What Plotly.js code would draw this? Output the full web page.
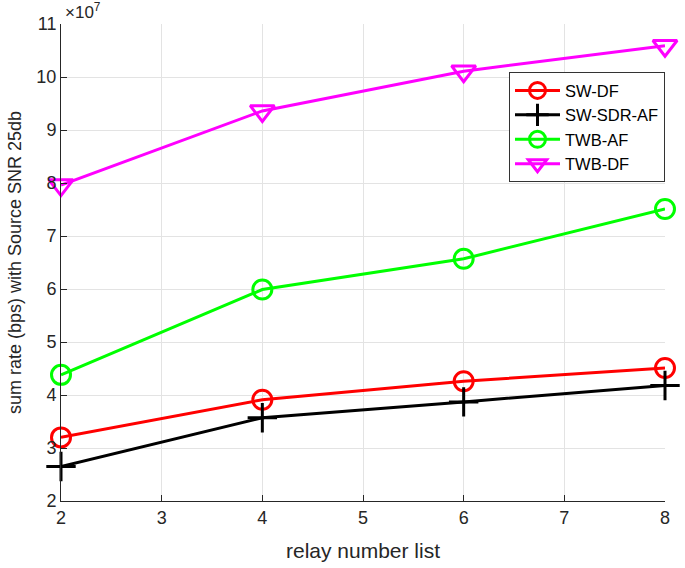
<!DOCTYPE html>
<html>
<head>
<meta charset="utf-8">
<script src="https://cdn.plot.ly/plotly-3.0.1.min.js"></script>
<style>html,body{margin:0;padding:0;background:#fff;}#chart{width:685px;height:568px;}</style>
</head>
<body>
<div id="chart"></div>
<script>
const relays = [2, 4, 6, 8];
const swDF = [3.20e7, 3.91e7, 4.26e7, 4.51e7];
const swSDRAF = [2.65e7, 3.57e7, 3.87e7, 4.18e7];
const twbAF = [4.38e7, 5.99e7, 6.57e7, 7.51e7];
const twbDF = [7.96e7, 9.36e7, 10.11e7, 10.59e7];
const seriesNames = ["SW-DF", "SW-SDR-AF", "TWB-AF", "TWB-DF"];
const xTickVals = [2, 3, 4, 5, 6, 7, 8];
const yTickVals = [2e7,3e7,4e7,5e7,6e7,7e7,8e7,9e7,10e7,11e7];
const yTickText = ["2","3","4","5","6","7","8","9","10","11"];

const font = "Liberation Sans, Arial, sans-serif";
function tr(y, name, color, symbol, size) {
  return {
    x: relays, y: y, name: name, type: "scatter", mode: "lines+markers",
    cliponaxis: false,
    line: {color: color, width: 3},
    marker: {symbol: symbol, size: size, color: color, line: {color: color, width: 3}}
  };
}
const data = [
  tr(swDF, seriesNames[0], "#ff0000", "circle-open", 19),
  tr(swSDRAF, seriesNames[1], "#000000", "cross-thin-open", 21),
  tr(twbAF, seriesNames[2], "#00ff00", "circle-open", 19),
  tr(twbDF, seriesNames[3], "#ff00ff", "triangle-down-open", 21)
];
const layout = {
  width: 685, height: 568,
  margin: {l: 61, r: 20, t: 24, b: 67},
  paper_bgcolor: "#fff", plot_bgcolor: "#fff",
  font: {family: font, size: 18, color: "#262626"},
  showlegend: true,
  legend: {
    x: 1, xanchor: "right", y: 0.899, yanchor: "top",
    bgcolor: "#fff", bordercolor: "#333", borderwidth: 1,
    font: {family: font, size: 16.5, color: "#000"},
    tracegroupgap: 0, itemwidth: 45
  },
  xaxis: {
    range: [2, 8], tickvals: xTickVals, ticks: "inside", ticklen: 6,
    tickcolor: "#262626", showline: true, linecolor: "#262626", linewidth: 1,
    showgrid: true, gridcolor: "#e3e3e3", zeroline: false,
    tickfont: {size: 18, color: "#262626"},
    title: {text: "relay number list", font: {size: 21, color: "#262626"}, standoff: 16}
  },
  yaxis: {
    range: [2e7, 11e7], tickvals: yTickVals, ticktext: yTickText, ticks: "inside", ticklen: 6,
    tickcolor: "#262626", showline: true, linecolor: "#262626", linewidth: 1,
    showgrid: true, gridcolor: "#e3e3e3", zeroline: false,
    tickfont: {size: 18, color: "#262626"},
    title: {text: "sum rate (bps) with Source SNR 25db", font: {size: 18, color: "#262626"}, standoff: 10}
  },
  annotations: [{
    xref: "paper", yref: "paper", x: 0.003, y: 1.0, xanchor: "left", yanchor: "bottom",
    text: "×10<sup>7</sup>", showarrow: false, font: {size: 17, color: "#262626"}
  }]
};
Plotly.newPlot("chart", data, layout, {displayModeBar: false, staticPlot: true});
</script>
</body>
</html>
